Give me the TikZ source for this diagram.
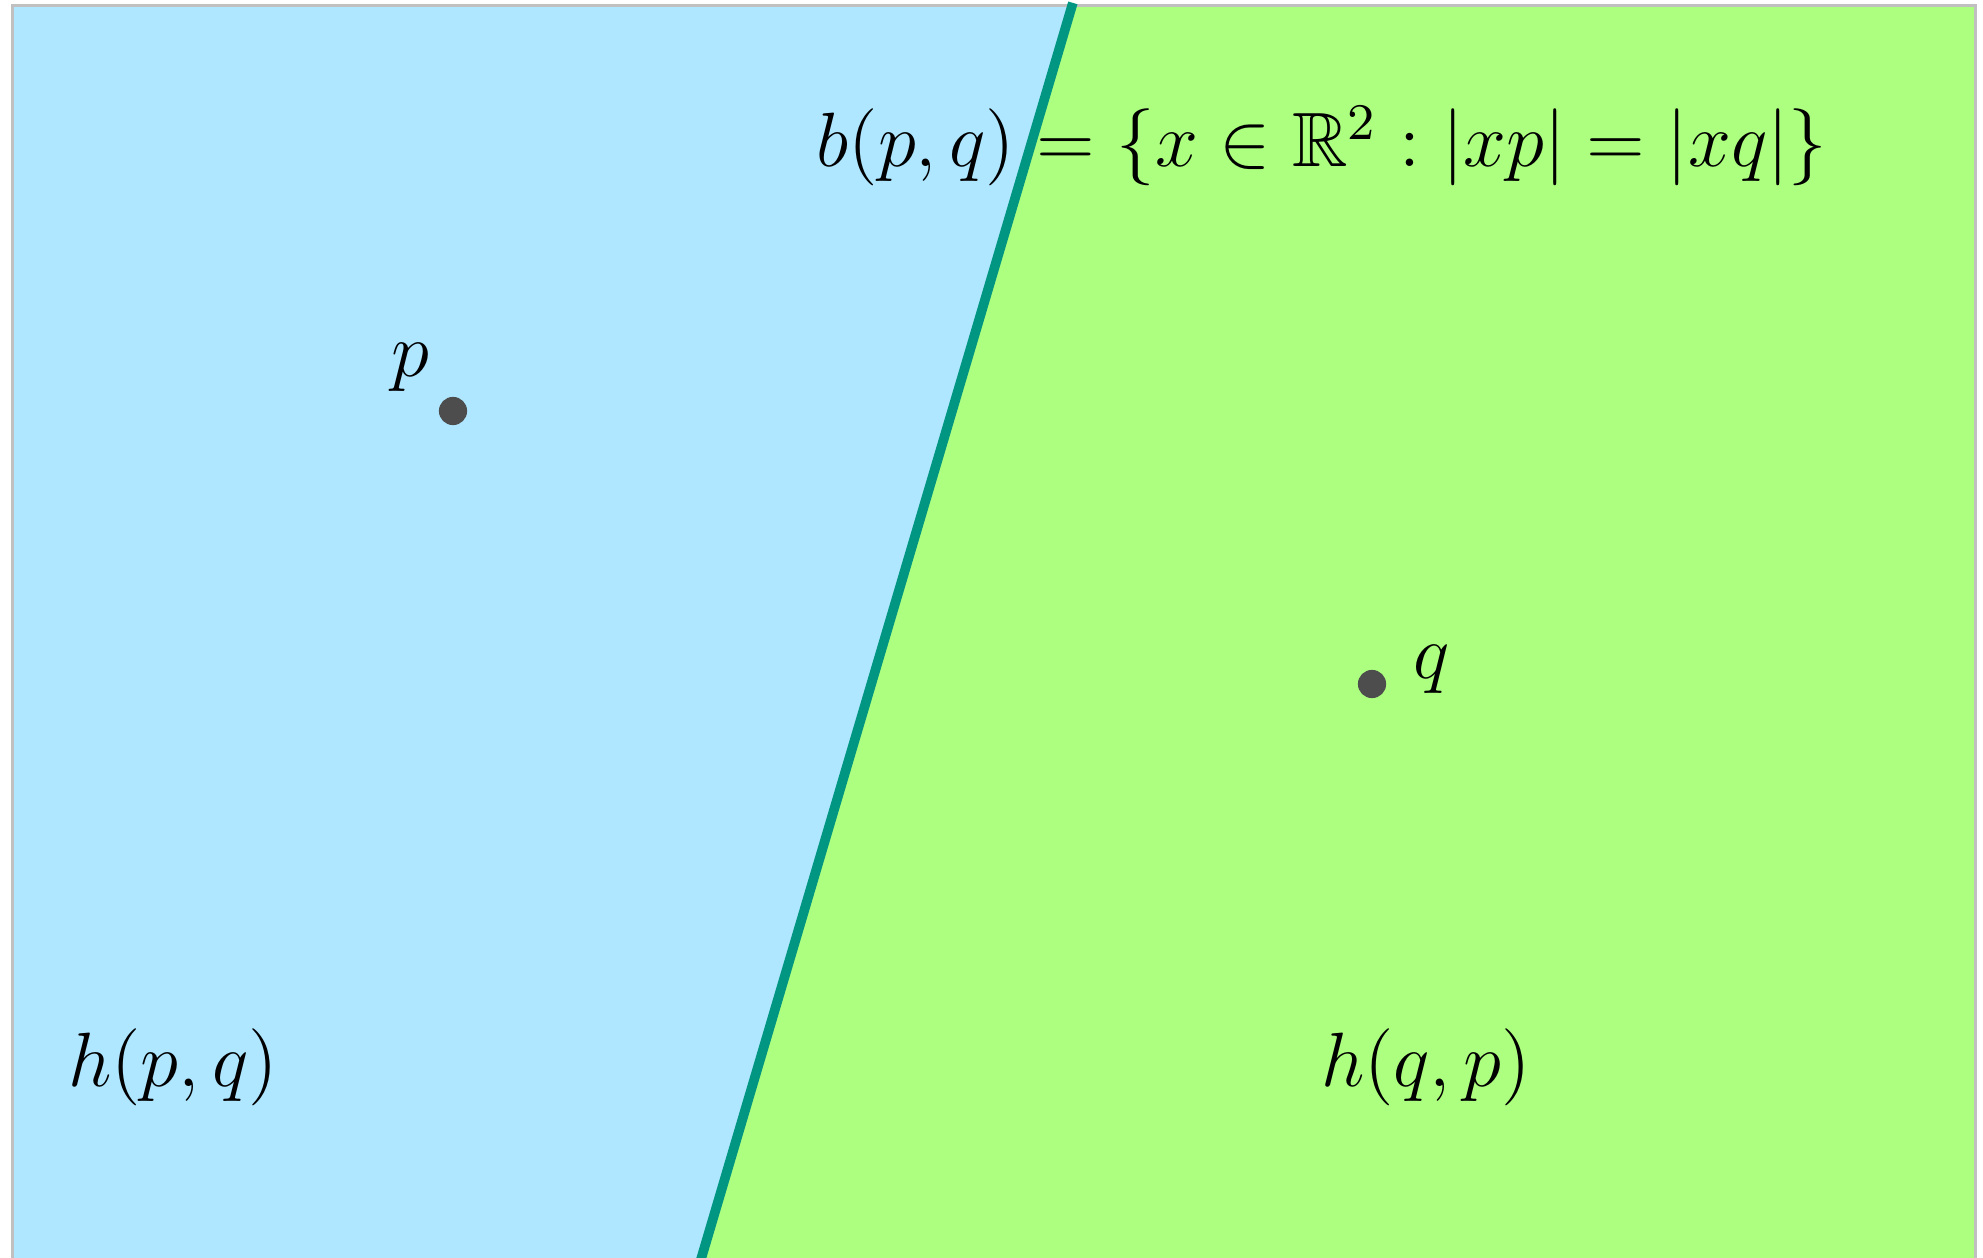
\documentclass[tikz,border=0pt]{standalone}
\usepackage{amsmath}
\usepackage{amssymb}
\usepackage{xcolor}
\usepackage{tikz}
\usetikzlibrary{positioning}

\definecolor{halfpq}{RGB}{174,231,255}
\definecolor{halfqp}{RGB}{173,255,128}
\definecolor{bisector}{RGB}{0,150,130}
\definecolor{sitegray}{RGB}{77,77,77}
\definecolor{framegray}{RGB}{192,192,192}

\begin{document}
\begin{tikzpicture}[x=0.15584pt,y=-0.15584pt,font=\fontsize{12}{14.5}\selectfont,
    site/.style={circle,fill=sitegray,inner sep=0pt,minimum size=4.4pt},
    tag/.style={anchor=base,inner sep=0pt}]
    \useasboundingbox (0,0) rectangle (1983,1258);
    \clip (0,0) rectangle (1983,1258);

    \coordinate (b0) at (1073.7,0);
    \coordinate (b1) at (697.8,1270);

    \begin{scope}
        \clip (12.5,5.5) rectangle (1975.5,1270);
        \fill[halfpq] (0,0) -- (b0) -- (b1) -- (0,1270) -- cycle;
        \fill[halfqp] (b0) -- (1983,0) -- (1983,1270) -- (b1) -- cycle;
    \end{scope}
    \draw[framegray,line width=0.47pt] (12.5,1280) -- (12.5,5.5) -- (1975.5,5.5) -- (1975.5,1280);
    \draw[bisector,line width=1.5pt,shorten <=0.47pt] (b0) -- (b1);

    \node[site] (p) at (453,411) {};
    \node[site] (q) at (1372,684) {};
    \node[tag] (plabel) at (410,377) {$p$};
    \node[tag] (qlabel) at (1432,678) {$q$};

    \node[tag] (bdef) at (1322,167) {$b(p,q) = \{x \in \mathbb{R}^2 : |xp| = |xq|\}$};
    \node[tag] (hpq) at (173,1086) {$h(p,q)$};
    \node[tag] (hqp) at (1426,1086) {$h(q,p)$};
\end{tikzpicture}
\end{document}
